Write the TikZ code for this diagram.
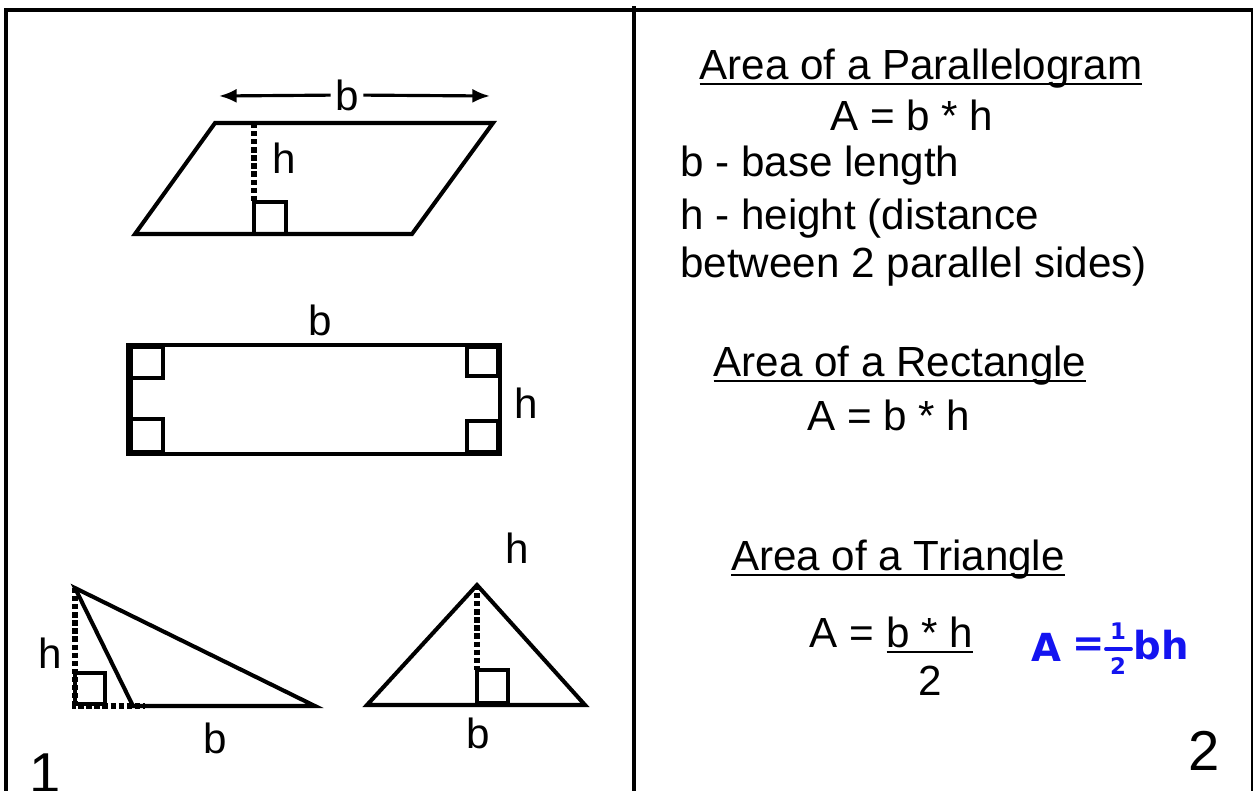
\documentclass[tikz,border=0pt]{standalone}
\usepackage{fontspec}
\setmainfont{Liberation Sans}
\newfontfamily\handfont{DejaVu Sans}
\usetikzlibrary{arrows.meta}
\definecolor{ink}{HTML}{1414F0}
\newcommand{\ulbox}[1]{\setbox0\hbox{#1}\rlap{\rule[-3.4pt]{\wd0}{1.3pt}}\box0}

\begin{document}
\begin{tikzpicture}[x=0.02cm,y=-0.02cm,
  fig/.style={line width=2.3pt,line join=miter},
  sq/.style={line width=1.8pt},
  dotline/.style={line width=3pt,dash pattern=on 3pt off 1.6pt},
  dimarrow/.style={line width=1.8pt,-{Latex[length=10pt,width=8pt]}},
  txt/.style={font=\fontsize{24}{28}\selectfont,inner sep=0pt},
  lbl/.style={font=\fontsize{24}{28}\selectfont,inner sep=2.5pt},
  num/.style={font=\fontsize{32}{36}\selectfont,inner sep=0pt},
  hand/.style={font=\handfont\bfseries\fontsize{22}{24}\selectfont,text=ink,inner sep=0pt},
  handsm/.style={hand,font=\handfont\bfseries\fontsize{13}{14}\selectfont}
]
  \useasboundingbox (0,0) rectangle (1255,791);

  % frame
  \draw[line width=2.8pt] (4,10) -- (1253,10);
  \draw[line width=2.5pt] (6,791) -- (6,8.6);
  \draw[line width=0.8pt] (1252,10) -- (1252,791);
  \draw[line width=2.3pt] (634,6) -- (634,791);

  % parallelogram
  \draw[fig] (215,123) -- (493,123) -- (412,234) -- (135,234) -- cycle;
  \draw[dotline] (254,123) -- (254,202);
  \draw[sq] (254,202) rectangle (286,234);
  \node[lbl] (pb) at (347,95) {b};
  \coordinate (pbl) at (219,96);
  \coordinate (pbr) at (490,96);
  \draw[dimarrow] (pb) -- (pbl);
  \draw[dimarrow] (pb) -- (pbr);
  \node[txt,anchor=base] (ph) at (284,173) {h};

  % rectangle
  \draw[fig] (128,345) rectangle (500,454);
  \draw[line width=3.4pt] (130,345) -- (130,454);
  \draw[sq] (130,347) rectangle (163,378);
  \draw[sq] (467,347) rectangle (498,376);
  \draw[sq] (130,419) rectangle (163,452);
  \draw[sq] (467,421) rectangle (498,452);
  \node[txt,anchor=base] (rb) at (320,335) {b};
  \node[txt,anchor=base] (rh) at (526,418) {h};

  % obtuse triangle
  \draw[fig] (75,588) -- (315,706) -- (133,706) -- cycle;
  \draw[dotline] (75,588) -- (75,706) -- (145,706);
  \draw[sq] (75,673) rectangle (105,704);
  \node[txt,anchor=base] (th) at (50,668) {h};
  \node[txt,anchor=base] (tb) at (215,753) {b};

  % isosceles triangle
  \draw[fig] (477,585) -- (585,705) -- (367,705) -- cycle;
  \draw[dotline] (477,585) -- (477,670);
  \draw[sq] (477,670) rectangle (508,703);
  \node[txt,anchor=base] (ib) at (478,748) {b};
  \node[txt,anchor=base] (ih) at (517,563) {h};

  \node[num,anchor=base] (n1) at (45,792) {1};
  \node[num,anchor=base] (n2) at (1204,770) {2};

  % formulas
  \node[txt,anchor=base] (pt) at (921,79) {\ulbox{Area of a Parallelogram}};
  \node[txt,anchor=base] (pf) at (912,130) {A = b * h};
  \node[txt,anchor=base west] (pd1) at (680,176) {b - base length};
  \node[txt,anchor=base west] (pd2) at (680,229) {h - height (distance};
  \node[txt,anchor=base west] (pd3) at (680,277) {between 2 parallel sides)};

  \node[txt,anchor=base] (rt) at (900,376) {\ulbox{Area of a Rectangle}};
  \node[txt,anchor=base] (rf) at (889,430) {A = b * h};

  \node[txt,anchor=base] (tt) at (898,570) {\ulbox{Area of a Triangle}};
  \node[txt,anchor=base west] (tfa) at (809,647) {A =};
  \node[txt,anchor=base] (tfn) at (930,647) {\ulbox{b * h}};
  \node[txt,anchor=base] (tfd) at (930,695) {2};

  % handwritten note
  \node[hand] (hA) at (1046,647) {A};
  \node[hand] (heq) at (1089,647) {=};
  \node[handsm] (hone) at (1118,631) {1};
  \node[handsm] (htwo) at (1118,666) {2};
  \coordinate (hbl) at (1106,649);
  \coordinate (hbr) at (1131,649);
  \draw[ink,line width=2.2pt,line cap=round] (hbl) -- (hbr);
  \node[hand] (hbh) at (1161,645) {bh};
\end{tikzpicture}
\end{document}
